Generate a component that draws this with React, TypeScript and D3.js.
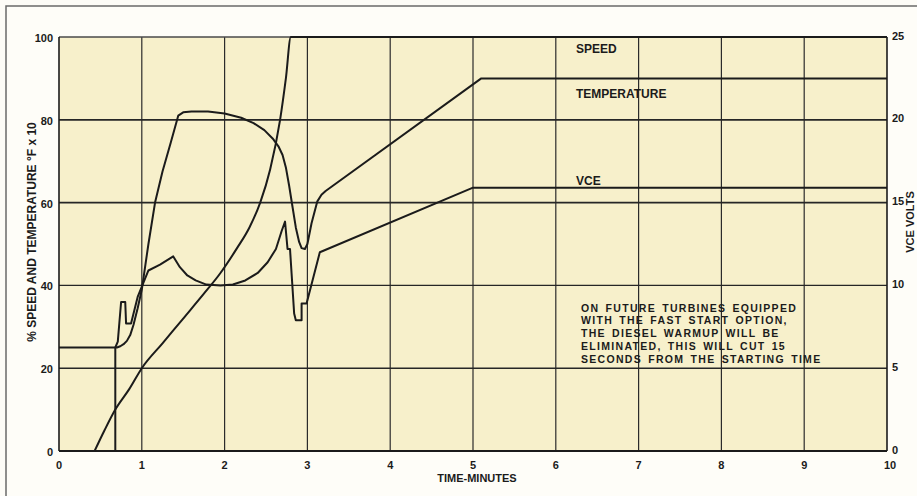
import * as React from 'react'
import * as d3 from 'd3'

const W = 917
const H = 496
const X_LEFT = 59
const X_RIGHT = 887
const Y_TOP = 37
const Y_BOTTOM = 451
const FONT = '"Liberation Sans", "DejaVu Sans", Arial, sans-serif'
const INK = '#1b1b1b'

// time in minutes, speed in %
const speedTime = [0.43, 0.55, 0.68, 0.85, 1.0, 1.25, 1.5, 1.75, 1.95, 2.15, 2.3, 2.43, 2.55, 2.67, 2.74, 2.8, 10]
const speedPct = [0, 5, 10, 15, 20, 26, 32, 38, 43, 49, 54, 60, 68, 80, 90, 100, 100]

// temperature in °F x 10 (left axis)
const tempTime = [0, 0.7, 0.74, 0.78, 0.82, 0.86, 0.9, 0.95, 1.0, 1.08, 1.16, 1.25, 1.35, 1.44, 1.5, 1.6, 1.8, 2.0, 2.2, 2.35, 2.48, 2.58, 2.65, 2.7, 2.74, 2.78, 2.82, 2.86, 2.9, 2.93, 2.97, 3.0, 3.05, 3.12, 3.17, 3.22, 5.1, 10]
const tempPct = [25, 25, 25.3, 25.8, 26.6, 28, 30.5, 34.5, 39, 50, 60, 67.5, 74.5, 81, 81.8, 82, 82, 81.5, 80.5, 79.2, 77.5, 75.5, 73.6, 71.5, 68.5, 64, 59, 54, 50.5, 49, 48.8, 50, 55, 60.3, 61.9, 62.8, 90, 90]

// VCE in volts (right axis)
const vceTime = [0.68, 0.68, 0.71, 0.75, 0.8, 0.81, 0.87, 0.95, 1.08, 1.22, 1.38, 1.46, 1.55, 1.65, 1.78, 1.95, 2.1, 2.25, 2.4, 2.52, 2.62, 2.69, 2.73, 2.76, 2.79, 2.84, 2.86, 2.93, 2.93, 2.99, 3.15, 5.0, 10]
const vceVolts = [0, 6.25, 6.6, 9.0, 9.0, 7.7, 7.7, 9.3, 10.9, 11.25, 11.75, 11.1, 10.6, 10.3, 10.05, 10.0, 10.05, 10.3, 10.75, 11.4, 12.2, 13.3, 13.85, 12.2, 12.2, 8.3, 7.9, 7.9, 8.9, 8.9, 12.0, 15.9, 15.9]

const xTicks = [0, 1, 2, 3, 4, 5, 6, 7, 8, 9, 10]
const leftTicks = [0, 20, 40, 60, 80, 100]
const rightTicks = [0, 5, 10, 15, 20, 25]
const gridLeft = [20, 40, 60, 80]
const gridTime = [1, 2, 3, 4, 5, 6, 7, 8, 9]

const curveLabels = ['SPEED', 'TEMPERATURE', 'VCE']
const curveLabelPct = [96.1, 85.3, 64.3]
const noteLines = [
  'ON FUTURE TURBINES EQUIPPED',
  'WITH THE FAST START OPTION,',
  'THE DIESEL WARMUP WILL BE',
  'ELIMINATED, THIS WILL CUT 15',
  'SECONDS FROM THE STARTING TIME'
]

export default function App() {
  const x = d3.scaleLinear().domain([0, 10]).range([X_LEFT, X_RIGHT])
  const yL = d3.scaleLinear().domain([0, 100]).range([Y_BOTTOM, Y_TOP])
  const yR = d3.scaleLinear().domain([0, 25]).range([Y_BOTTOM, Y_TOP])

  const smooth = d3
    .line<[number, number]>()
    .x(d => x(d[0]))
    .y(d => yL(d[1]))
    .curve(d3.curveMonotoneX)
  const polyL = d3
    .line<[number, number]>()
    .x(d => x(d[0]))
    .y(d => yL(d[1]))
  const polyR = d3
    .line<[number, number]>()
    .x(d => x(d[0]))
    .y(d => yR(d[1]))

  const speedPath = smooth(speedTime.map((t, i) => [t, speedPct[i]])) || ''
  const tempPath = polyL(tempTime.map((t, i) => [t, tempPct[i]])) || ''
  const vcePath = polyR(vceTime.map((t, i) => [t, vceVolts[i]])) || ''

  return (
    <svg
      width={W}
      height={H}
      style={{ position: 'absolute', left: 0, top: 0, background: '#fdfcf7' }}
      fontFamily={FONT}
      fontWeight="bold"
    >
      {/* outer frame */}
      <rect x={6} y={6} width={W + 20} height={H + 20} fill="#fefdf8" stroke="#6a6a6a" strokeWidth={1.5} />
      {/* plot paper */}
      <rect x={X_LEFT} y={Y_TOP} width={X_RIGHT - X_LEFT} height={Y_BOTTOM - Y_TOP} fill="#f7f0cb" />

      {gridTime.map(t => (
        <line key={'v' + t} x1={x(t)} x2={x(t)} y1={Y_TOP} y2={Y_BOTTOM} stroke="#2b2b2b" strokeWidth={1.2} />
      ))}
      {gridLeft.map(v => (
        <line key={'h' + v} x1={X_LEFT} x2={X_RIGHT} y1={yL(v)} y2={yL(v)} stroke="#262626" strokeWidth={v >= 60 ? 1.8 : 1.4} />
      ))}

      {/* frame of the plot */}
      <line x1={X_LEFT} x2={X_RIGHT} y1={Y_TOP} y2={Y_TOP} stroke="#4a4a4a" strokeWidth={1.3} />
      <line x1={X_LEFT} x2={X_LEFT} y1={Y_TOP} y2={Y_BOTTOM} stroke={INK} strokeWidth={1.6} />
      <line x1={X_RIGHT} x2={X_RIGHT} y1={Y_TOP} y2={Y_BOTTOM} stroke={INK} strokeWidth={1.6} />
      <line x1={X_LEFT} x2={X_RIGHT} y1={Y_BOTTOM} y2={Y_BOTTOM} stroke={INK} strokeWidth={2} />

      <g fill="none" stroke={INK} strokeWidth={2} strokeLinejoin="round">
        <path d={speedPath} />
        <path d={tempPath} />
        <path d={vcePath} />
      </g>

      {/* tick labels */}
      <g fontSize={11} fill={INK}>
        {leftTicks.map(v => (
          <text key={'l' + v} x={53} y={yL(v) + 1} textAnchor="end" dominantBaseline="central">
            {v}
          </text>
        ))}
        {rightTicks.map(v => (
          <text key={'r' + v} x={892} y={yR(v) - 1.5} textAnchor="start" dominantBaseline="central">
            {v}
          </text>
        ))}
        {xTicks.map(t => (
          <text key={'x' + t} x={x(t) + (t === 10 ? 3 : 0)} y={469} textAnchor="middle">
            {t}
          </text>
        ))}
      </g>

      {/* axis titles */}
      <text x={477} y={482} fontSize={11} textAnchor="middle" fill={INK}>
        TIME-MINUTES
      </text>
      <text transform="translate(36,232) rotate(-90)" fontSize={12} textAnchor="middle" fill={INK}>
        % SPEED AND TEMPERATURE °F x 10
      </text>
      <text transform="translate(914,222) rotate(-90)" fontSize={11} textAnchor="middle" fill={INK}>
        VCE VOLTS
      </text>

      {/* curve names */}
      <g fontSize={12} fill={INK}>
        {curveLabels.map((s, i) => (
          <text key={s} x={576} y={yL(curveLabelPct[i])}>
            {s}
          </text>
        ))}
      </g>

      {/* note */}
      <g fontSize={10.5} fill={INK} letterSpacing={1.3}>
        {noteLines.map((s, i) => (
          <text key={i} x={581} y={311.5 + i * 12.9} style={{ wordSpacing: '2px' }}>
            {s}
          </text>
        ))}
      </g>
    </svg>
  )
}
